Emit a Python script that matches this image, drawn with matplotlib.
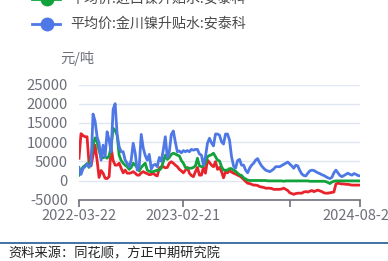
import matplotlib
matplotlib.use("Agg")
import matplotlib.pyplot as plt
from matplotlib.lines import Line2D

plt.rcParams['font.family'] = ['Noto Sans CJK SC', 'DejaVu Sans']

# ---- data (thousand yuan/ton -> yuan/ton) ----
tick_labels = ["2022-03-22", "2023-02-21", "", "2024-08-27"]
tick_index = [0, 52, 105, 140]

series_names = ["平均价:进口镍升贴水:安泰科", "平均价:金川镍升贴水:安泰科"]

red_k = [5.8, 12.2, 11.7, 11.4, 11.4, 4.5, 3.8, 6.6, 9.2, 5.3,
         0.8, 2.6, 1.9, 0.6, 0.5, 1.0, 8.6, 5.2, 4.0, 4.0,
         4.5, 3.2, 2.0, 2.7, 1.9, 1.9, 2.0, 2.3, 1.9, 1.4,
         1.4, 2.0, 2.3, 2.0, 1.8, 1.5, 1.6, 1.9, 1.4, 1.2,
         3.2, 3.6, 3.6, 3.3, 3.4, 4.5, 4.9, 4.5, 4.0, 3.6,
         2.9, 2.5, 2.0, 2.7, 3.4, 1.9, 1.3, 1.0, 2.3, 3.4,
         1.4, 1.4, 3.4, 1.9, 5.3, 4.7, 4.0, 3.6, 4.9, 2.9,
         3.4, 2.3, 0.7, 2.3, 2.0, 2.6, 2.2, 1.9, 1.7, 1.4,
         1.2, 0.8, 0.3, -0.2, -0.7, -0.8, -1.0, -1.2, -1.2, -1.3,
         -1.6, -1.7, -1.8, -2.0, -2.0, -2.0, -2.1, -2.3, -2.3, -2.3,
         -2.3, -2.2, -2.0, -2.3, -2.6, -3.2, -3.4, -3.6, -3.4, -3.3,
         -3.3, -3.3, -3.0, -2.9, -3.0, -2.8, -2.6, -2.9, -2.7, -2.5,
         -2.7, -2.9, -3.2, -3.3, -3.3, -3.2, -3.1, -3.0, -0.9, -0.7,
         -0.8, -0.9, -0.9, -1.0, -1.0, -1.1, -1.2, -1.2, -1.2, -1.2,
         -1.2]

green_k = [1.4, 2.7, 3.5, 3.9, 4.4, 3.4, 5.8, 9.2, 11.1, 10.1,
           7.8, 6.0, 5.9, 6.2, 5.8, 6.4, 8.8, 13.6, 13.1, 11.8,
           6.6, 5.2, 4.5, 4.0, 3.6, 2.9, 3.4, 4.5, 4.0, 3.4,
           2.5, 3.4, 4.0, 4.5, 2.7, 2.4, 2.3, 2.3, 2.5, 2.7,
           2.7, 3.2, 4.9, 6.6, 5.5, 6.0, 6.8, 7.1, 6.9, 6.6,
           6.4, 5.2, 4.5, 3.4, 3.2, 3.2, 3.2, 3.4, 3.8, 5.8,
           3.8, 3.6, 3.8, 4.5, 6.2, 6.5, 6.7, 7.1, 6.2, 5.3,
           5.1, 3.6, 2.7, 2.7, 2.7, 3.1, 3.1, 2.7, 2.4, 1.9,
           1.5, 1.3, 0.7, 0.4, 0.1, 0.0, 0.0, 0.0, 0.0, 0.0,
           0.0, 0.0, 0.0, 0.0, -0.1, -0.1, -0.1, -0.1, -0.1, -0.1,
           -0.1, -0.1, -0.2, -0.1, -0.1, -0.1, -0.1, -0.1, -0.1, -0.1,
           -0.1, -0.1, -0.1, -0.1, -0.1, -0.2, -0.2, -0.2, -0.2, -0.2,
           -0.2, -0.2, -0.2, -0.3, -0.5, -0.8, -0.4, -0.2, -0.1, -0.1,
           -0.1, -0.1, -0.1, -0.1, -0.1, -0.1, -0.1, -0.1, -0.1, -0.1,
           -0.1]

blue_k = [3.4, 1.6, 3.1, 3.6, 4.3, 3.6, 4.0, 17.3, 15.5, 11.4,
          9.7, 5.3, 9.2, 6.2, 12.7, 10.5, 7.5, 18.5, 20.0, 12.0,
          8.8, 7.5, 7.5, 5.3, 4.5, 3.6, 5.3, 9.7, 7.1, 2.7,
          3.6, 12.0, 8.5, 6.5, 5.3, 6.8, 3.0, 4.0, 4.2, 3.6,
          6.0, 5.0, 8.0, 11.4, 6.0, 7.5, 12.0, 12.9, 10.0, 7.5,
          7.7, 7.2, 7.8, 7.5, 7.8, 7.5, 8.1, 7.9, 8.1, 8.1,
          6.9, 6.6, 4.0, 6.2, 9.7, 11.0, 9.8, 9.0, 12.1, 12.1,
          11.8, 10.1, 9.5, 12.1, 12.1, 10.5, 6.2, 3.8, 3.2, 5.2,
          5.5, 4.0, 4.0, 2.7, 2.0, 3.2, 4.0, 4.5, 5.3, 5.7,
          4.6, 3.8, 3.2, 2.7, 2.5, 2.3, 2.6, 3.0, 3.6, 3.6,
          3.6, 3.9, 4.2, 4.5, 4.8, 4.3, 3.8, 3.2, 4.0, 3.8,
          2.6, 1.7, 1.3, 1.2, 1.9, 2.5, 2.7, 2.6, 2.3, 2.0,
          1.8, 1.5, 1.3, 1.0, 0.7, 0.5, 0.8, 2.0, 2.7, 2.0,
          1.3, 1.0, 1.3, 1.6, 1.9, 1.6, 1.4, 1.8, 1.6, 1.3,
          1.2]

red = [v * 1000 for v in red_k]
green = [v * 1000 for v in green_k]
blue = [v * 1000 for v in blue_k]

yticks = [-5000, 0, 5000, 10000, 15000, 20000, 25000]

RED = "#e8232b"
GREEN = "#12a23c"
BLUE = "#4d78e6"
AXIS_GRAY = "#6e7079"
GRID = "#e0e6f1"

fig = plt.figure(figsize=(3.88, 2.61), dpi=100)
ax = fig.add_axes([79 / 388, 1 - 199.7 / 261, (360 - 79) / 388, (199.7 - 84.5) / 261])

x = list(range(len(red)))
ax.plot(x, red, color=RED, lw=2.0, zorder=3)
ax.plot(x, green, color=GREEN, lw=2.0, zorder=4)
ax.plot(x, blue, color=BLUE, lw=2.0, zorder=5)

ax.set_xlim(0, len(red) - 1)
ax.set_ylim(-5000, 25000)
ax.set_yticks(yticks)
ax.set_yticklabels([str(v) for v in yticks])
ax.set_xticks(tick_index)
ax.set_xticklabels(tick_labels)

for v in yticks[1:]:
    ax.axhline(v, color=GRID, lw=1.0, zorder=1)

for s in ["top", "right", "left"]:
    ax.spines[s].set_visible(False)
ax.spines["bottom"].set_color(AXIS_GRAY)
ax.spines["bottom"].set_linewidth(1.2)

ax.tick_params(axis="y", length=0, pad=8, labelsize=10.7, labelcolor=AXIS_GRAY)
ax.tick_params(axis="x", length=5, width=1.2, color=AXIS_GRAY, pad=2,
               labelsize=10.5, labelcolor=AXIS_GRAY)

# unit label
fig.text(60 / 388, 1 - 58 / 261, "元/吨", fontsize=10.3, color=AXIS_GRAY,
         ha="left", va="center")

# legend (partially cropped at top)
def legend_item(y_px, color, label):
    yf = 1 - y_px / 261
    fig.add_artist(Line2D([32 / 388, 60 / 388], [yf, yf], color=color, lw=2,
                          transform=fig.transFigure))
    fig.add_artist(Line2D([46.5 / 388], [yf], marker="o", markersize=9,
                          color=color, transform=fig.transFigure))
    fig.text(70 / 388, yf, label, fontsize=10.1, color="#4a4a4a",
             ha="left", va="center")

legend_item(-1, GREEN, series_names[0])
legend_item(24, BLUE, series_names[1])

# source line
fig.add_artist(Line2D([0, 1], [1 - 243 / 261, 1 - 243 / 261], color="#1f5a96",
                      lw=1.2, transform=fig.transFigure))
fig.text(8 / 388, 1 - 253.5 / 261, "资料来源：同花顺，方正中期研究院", fontsize=9.5,
         color="#222222", ha="left", va="center", style="italic")

fig.savefig("out.png", dpi=100)
